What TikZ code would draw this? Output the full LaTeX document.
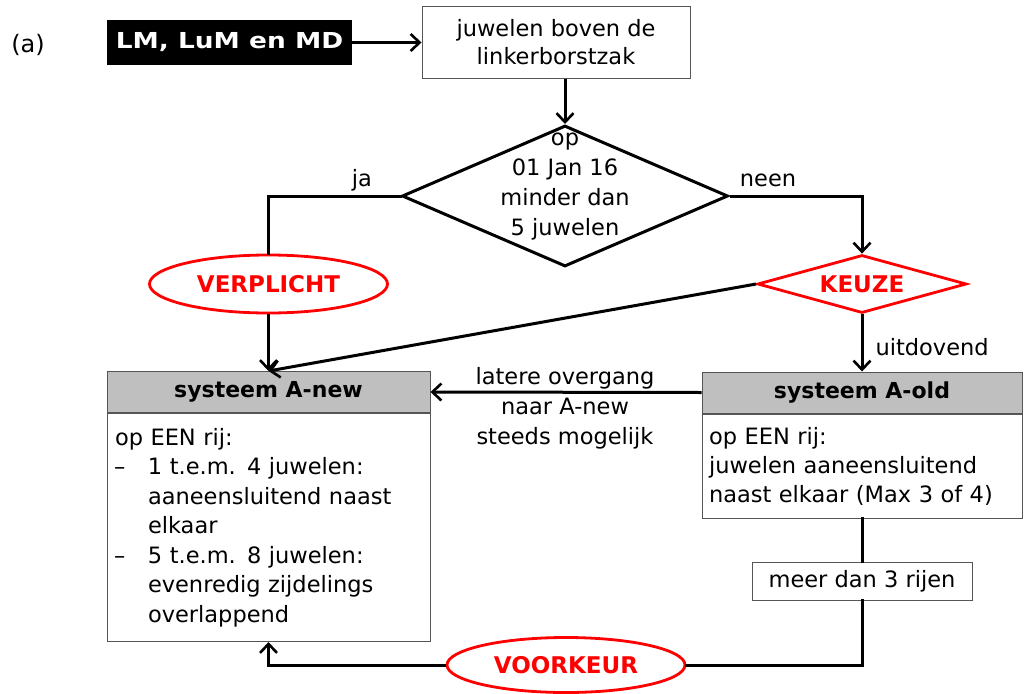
\documentclass[tikz,border=0pt]{standalone}
\usepackage{fontspec}
\setmainfont{DejaVu Sans}
\usetikzlibrary{shapes.geometric,arrows.meta}
\definecolor{hdr}{HTML}{BFBFBF}
\definecolor{bord}{HTML}{555555}
\tikzset{
  txt/.style={font=\fontsize{22.5}{28}\selectfont},
  box/.style={draw=bord, line width=1pt, txt, inner sep=0pt},
  hbox/.style={box, fill=hdr, font=\fontsize{22}{28}\selectfont\bfseries},
  conn/.style={line width=3pt, line cap=rect},
  arr/.style={conn, -{Straight Barb[length=9pt,width=17pt,line width=2.6pt]}, line cap=butt},
  redtxt/.style={text=red, font=\fontsize{23}{28}\selectfont\bfseries, inner sep=0pt},
  redell/.style={ellipse, draw=red, line width=2.8pt, inner sep=0pt},
}
\begin{document}
\begin{tikzpicture}[x=1pt,y=-1pt]
\useasboundingbox (0,0) rectangle (1024,693);
\node[txt, font=\fontsize{24}{28}\selectfont] (lbl) at (28,45) {(a)};
\node[fill=black, text=white, font=\fontsize{22}{28}\selectfont\bfseries, minimum width=245pt, minimum height=45pt, inner sep=0pt] (src) at (229.5,42.5) {\scalebox{1.2}[1]{LM, LuM en MD}};
\node[box, minimum width=268pt, minimum height=71pt, align=center] (top) at (556,42.5) {juwelen boven de\\linkerborstzak};
\node[diamond, draw, line width=3pt, minimum width=326pt, minimum height=141pt, inner sep=0pt] (d1) at (565,196) {};
\node[txt, align=center, font=\fontsize{22.5}{30}\selectfont] (d1t) at (565,187) {op\\01 Jan 16\\minder dan\\5 juwelen};
\node[diamond, draw=red, line width=2.8pt, minimum width=209pt, minimum height=58pt, inner sep=0pt] (kz) at (862,284) {};
\node[redtxt] (kzt) at (kz.center) {KEUZE};
\node[redell, minimum width=238pt, minimum height=58pt] (vp) at (268.5,284) {};
\node[redtxt] (vpt) at (vp.center) {VERPLICHT};
\node[redell, minimum width=238pt, minimum height=55pt] (vk) at (566,665) {};
\node[redtxt] (vkt) at (vk.center) {VOORKEUR};
% A-new
\node[hbox, minimum width=323pt, minimum height=41pt] (anh) at (268.5,392) {systeem A-new};
\node[box, anchor=north, minimum width=323pt, minimum height=228pt, align=left, text width=307pt, font=\fontsize{22.5}{29.5}\selectfont, inner sep=0pt] (anb) at (anh.south) {%
op EEN rij:\\
\makebox[33pt][l]{\hspace*{-1pt}–}1 t.e.m. 4 juwelen:\\
\hspace*{33pt}aaneensluitend naast\\
\hspace*{33pt}elkaar\\
\makebox[33pt][l]{\hspace*{-1pt}–}5 t.e.m. 8 juwelen:\\
\hspace*{33pt}evenredig zijdelings\\
\hspace*{33pt}overlappend};
% A-old
\node[hbox, minimum width=320pt, minimum height=41pt] (aoh) at (862,392.5) {systeem A-old};
\node[box, anchor=north, minimum width=320pt, minimum height=104pt, align=left, text width=306pt, font=\fontsize{22.5}{29}\selectfont] (aob) at (aoh.south) {%
op EEN rij:\\
juwelen aaneensluitend\\
naast elkaar (Max 3 of 4)};
\node[box, minimum width=220pt, minimum height=38pt] (meer) at (862,581) {meer dan 3 rijen};
\node[txt, align=center, font=\fontsize{22.5}{30}\selectfont] (ovt) at (565,408) {latere overgang\\naar A-new\\steeds mogelijk};
\node[txt] (ja) at (362,180) {ja};
\node[txt] (neen) at (768,180) {neen};
\node[txt, anchor=west] (uit) at (872,347) {uitdovend};
% connectors
\draw[arr] (src.east) -- (top.west);
\draw[arr] (d1.north |- top.south) -- (d1.north);
\draw[conn] (d1.west) -| (vp.north);
\draw[arr] (vp.south) -- (anh.north);
\draw[arr] (d1.east) -| (kz.north);
\draw[arr] (kz.west) -- (anh.north);
\draw[arr] (kz.south) -- (aoh.north);
\draw[arr] (aoh.west) -- (anh.east);
\draw[conn] (aob.south) -- (meer.north);
\draw[conn] (meer.south) |- (vk.east);
\draw[arr] (vk.west) -| (anb.south);
\end{tikzpicture}
\end{document}
